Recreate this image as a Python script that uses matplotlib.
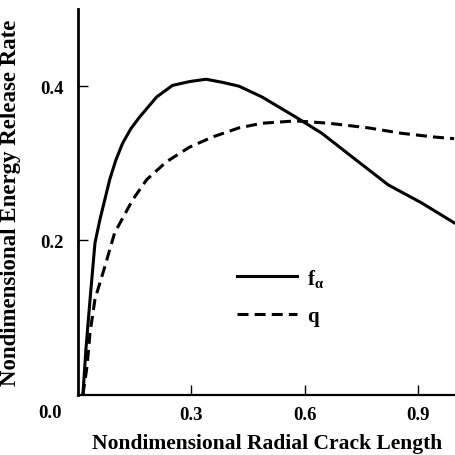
import matplotlib
matplotlib.use("Agg")
import matplotlib.pyplot as plt

# values
x_f = [0.013, 0.021, 0.032, 0.045, 0.058, 0.071, 0.084, 0.100, 0.118, 0.140, 0.163,
       0.208, 0.250, 0.295, 0.339, 0.382, 0.426, 0.487, 0.576, 0.645, 0.734, 0.821,
       0.908, 0.995]
f_alpha = [0.0, 0.059, 0.124, 0.197, 0.227, 0.253, 0.279, 0.304, 0.326, 0.345, 0.360,
           0.386, 0.401, 0.406, 0.409, 0.405, 0.400, 0.386, 0.360, 0.339, 0.305, 0.272,
           0.249, 0.223]

x_q = [0.013, 0.024, 0.032, 0.045, 0.071, 0.097, 0.116, 0.145, 0.182, 0.234, 0.295,
       0.355, 0.426, 0.487, 0.576, 0.663, 0.768, 0.855, 0.945, 0.995]
q = [0.0, 0.037, 0.081, 0.124, 0.166, 0.210, 0.227, 0.253, 0.279, 0.302, 0.321,
     0.334, 0.346, 0.352, 0.355, 0.352, 0.346, 0.339, 0.334, 0.332]

xticks = [0.3, 0.6, 0.9]
yticks = [0.2, 0.4]

plt.rcParams['font.family'] = 'Liberation Serif'
plt.rcParams['font.weight'] = 'bold'
plt.rcParams['mathtext.fontset'] = 'custom'
plt.rcParams['mathtext.rm'] = 'Liberation Serif:bold'
plt.rcParams['mathtext.it'] = 'Liberation Serif:bold'
plt.rcParams['mathtext.bf'] = 'Liberation Serif:bold'

fig = plt.figure(figsize=(4.56, 4.56), dpi=100)
ax = fig.add_axes([0.171, 0.132, 0.829, 0.846])

ax.plot(x_f, f_alpha, color='black', lw=2.2, solid_joinstyle='round',
        label=r'f$_{\mathbf{\alpha}}$')
ax.plot(x_q, q, color='black', lw=2.2, ls=(0, (3.6, 2)), label='q')

ax.set_xlim(0, 1.0)
ax.set_ylim(0, 0.5)
ax.set_xticks(xticks)
ax.set_yticks(yticks)
ax.set_xticklabels([f"{t:.1f}" for t in xticks])
ax.set_yticklabels([f"{t:.1f}" for t in yticks])
ax.tick_params(direction='in', length=7, width=1, labelsize=13.5, pad=8)
ax.tick_params(axis='y', pad=10)
ax.text(-0.042, -0.045, "0.0", transform=ax.transAxes, ha='right', va='center',
        fontsize=13.5, fontweight='bold')

for s in ['top', 'right']:
    ax.spines[s].set_visible(False)
ax.spines['left'].set_linewidth(2)
ax.spines['bottom'].set_linewidth(1.6)

ax.set_xlabel("Nondimensional Radial Crack Length", fontsize=15.5,
              fontweight='bold', labelpad=7)
ax.set_ylabel("Nondimensional Energy Release Rate", fontsize=16.5,
              fontweight='bold', labelpad=14)

ax.legend(frameon=False, loc='center left', bbox_to_anchor=(0.37, 0.255),
          handlelength=2.9, fontsize=15, labelspacing=0.85, handletextpad=0.5)

fig.savefig("out.png", dpi=100)
